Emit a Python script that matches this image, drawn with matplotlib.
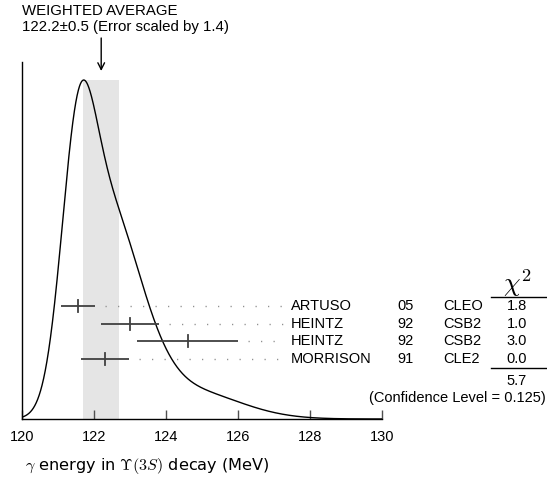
import numpy as np
import matplotlib
matplotlib.use("Agg")
import matplotlib.pyplot as plt
from matplotlib.transforms import blended_transform_factory

plt.rcParams['font.family'] = ['Liberation Sans', 'DejaVu Sans']
plt.rcParams['mathtext.fontset'] = 'cm'

# ---- data ----
authors = ["ARTUSO", "HEINTZ", "HEINTZ", "MORRISON"]
years = ["05", "92", "92", "91"]
experiments = ["CLEO", "CSB2", "CSB2", "CLE2"]
values = [121.55, 123.0, 124.6, 122.3]
errors = [0.48, 0.80, 1.40, 0.67]
chi2 = ["1.8", "1.0", "3.0", "0.0"]
chi2_total = "5.7"
conf_level = "0.125"
avg_value = 122.2
avg_error = 0.5
scale_factor = 1.4
xticks = [120, 122, 124, 126, 128, 130]

W, H = 547, 484
fig = plt.figure(figsize=(W / 100, H / 100), dpi=100)

def fx(px):
    return px / W

def fy(py):
    return 1 - py / H

ax_left, ax_right, ax_bot, ax_top = 22, 382, 419, 62
ax = fig.add_axes([fx(ax_left), fy(ax_bot), fx(ax_right) - fx(ax_left), fy(ax_top) - fy(ax_bot)])
ax.set_xlim(120, 130)
ax.set_ylim(0, 1.0)

# ideogram: sum of gaussians with area proportional to 1/sigma
x = np.linspace(120, 130, 2000)
ideo = np.zeros_like(x)
for v, e in zip(values, errors):
    ideo += (1.0 / e) * np.exp(-0.5 * ((x - v) / e) ** 2) / (e * np.sqrt(2 * np.pi))
peak_frac = (ax_bot - 80) / (ax_bot - ax_top)
ideo = ideo / ideo.max() * peak_frac

ax.fill_between([avg_value - avg_error, avg_value + avg_error], 0, peak_frac,
                color='#e5e5e5', lw=0, zorder=0)
ax.plot(x, ideo, color='black', lw=1.0, zorder=3)

# rows
row0 = (ax_bot - 306) / (ax_bot - ax_top)
drow = 17.7 / (ax_bot - ax_top)
name_x = 291
trans_dots = blended_transform_factory(fig.transFigure, ax.transAxes)
fs = 10.5
for i, (v, e) in enumerate(zip(values, errors)):
    yy = row0 - i * drow
    ax.plot([v - e, v + e], [yy, yy], color='#404040', lw=1.3, zorder=4, solid_capstyle='butt')
    ax.plot([v, v], [yy - 0.017, yy + 0.017], color='#404040', lw=1.3, zorder=4)
    # dotted leader
    xstart_fig = ax.transData.transform((v + e, 0))[0] / W + 10 / W
    ax.plot([xstart_fig, fx(name_x - 6)], [yy, yy], transform=trans_dots,
            color='#909090', lw=1.0, dashes=(0.9, 8.1), zorder=2, clip_on=False)
    ty = fy(ax_bot) + yy * (fy(ax_top) - fy(ax_bot))
    fig.text(fx(name_x), ty, authors[i], fontsize=fs, va='center', ha='left')
    fig.text(fx(397), ty, years[i], fontsize=fs, va='center', ha='left')
    fig.text(fx(443), ty, experiments[i], fontsize=fs, va='center', ha='left')
    fig.text(fx(517), ty, chi2[i], fontsize=fs, va='center', ha='center')

# chi2 header and lines
fig.text(fx(517), fy(283), r'$\chi^2$', fontsize=19, ha='center', va='center')
fig.add_artist(plt.Line2D([fx(491), fx(547)], [fy(297), fy(297)], color='black', lw=1.0))
fig.add_artist(plt.Line2D([fx(491), fx(547)], [fy(367.5), fy(367.5)], color='black', lw=1.0))
fig.text(fx(517), fy(381), chi2_total, fontsize=fs, ha='center', va='center')
fig.text(fx(546), fy(398), f"(Confidence Level = {conf_level})", fontsize=fs,
         ha='right', va='center')

# weighted average text + arrow
fig.text(fx(22), fy(11), "WEIGHTED AVERAGE", fontsize=10.8, ha='left', va='center')
fig.text(fx(22), fy(27), f"{avg_value}\u00b1{avg_error} (Error scaled by {scale_factor})",
         fontsize=10.8, ha='left', va='center')
ax.annotate('', xy=(avg_value, (ax_bot - 71) / (ax_bot - ax_top)),
            xytext=(avg_value, (ax_bot - 38) / (ax_bot - ax_top)),
            arrowprops=dict(arrowstyle='->', color='black', lw=1.0,
                            mutation_scale=12, shrinkA=0, shrinkB=0),
            annotation_clip=False)

# axes styling
for s in ['top', 'right']:
    ax.spines[s].set_visible(False)
ax.spines['left'].set_linewidth(1.0)
ax.spines['bottom'].set_linewidth(1.0)
ax.set_yticks([])
ax.set_xticks(xticks)
ax.set_xticklabels([str(t) for t in xticks], fontsize=fs)
ax.tick_params(axis='x', direction='in', length=6.5, width=1.0, color='#505050', pad=8)
ax.patch.set_alpha(0)

fig.text(fx(25), fy(466), r'$\gamma$ energy in $\mathit{\Upsilon}(3S)$ decay (MeV)',
         fontsize=11.6, ha='left', va='center', family=['DejaVu Sans'])

fig.savefig('out.png', dpi=100)
